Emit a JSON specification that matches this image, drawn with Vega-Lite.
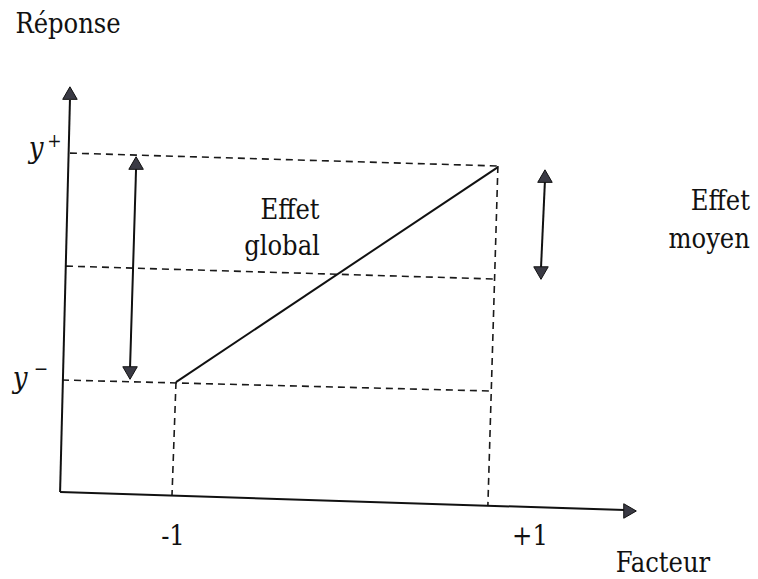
{
  "$schema": "https://vega.github.io/schema/vega-lite/v6.json",
  "width": 758,
  "height": 579,
  "autosize": {"type": "none"},
  "padding": 0,
  "background": "white",
  "config": {"view": {"stroke": null}},
  "datasets": {
    "segs": [
      {"id": "yaxis", "kind": "solid", "o": 0, "x": -1.704, "y": -1.969},
      {"id": "yaxis", "kind": "solid", "o": 1, "x": -1.642, "y": 1.454},
      {"id": "xaxis", "kind": "solid", "o": 0, "x": -1.704, "y": -1.969},
      {"id": "xaxis", "kind": "solid", "o": 1, "x": 1.849, "y": -2.127},
      {"id": "main", "kind": "solid", "o": 0, "x": -0.975, "y": -1.009},
      {"id": "main", "kind": "solid", "o": 1, "x": 1.05, "y": 0.869},
      {"id": "larrow", "kind": "solid", "o": 0, "x": -1.226, "y": 0.86},
      {"id": "larrow", "kind": "solid", "o": 1, "x": -1.264, "y": -0.886},
      {"id": "rarrow", "kind": "solid", "o": 0, "x": 1.346, "y": 0.755},
      {"id": "rarrow", "kind": "solid", "o": 1, "x": 1.321, "y": -0.013},
      {"id": "hplus", "kind": "dashed", "o": 0, "x": -1.642, "y": 0.991},
      {"id": "hplus", "kind": "dashed", "o": 1, "x": 1.05, "y": 0.878},
      {"id": "hmid", "kind": "dashed", "o": 0, "x": -1.667, "y": 0.004},
      {"id": "hmid", "kind": "dashed", "o": 1, "x": 1.031, "y": -0.109},
      {"id": "hminus", "kind": "dashed", "o": 0, "x": -1.692, "y": -0.991},
      {"id": "hminus", "kind": "dashed", "o": 1, "x": 1.0, "y": -1.087},
      {"id": "vminus", "kind": "dashed", "o": 0, "x": -0.975, "y": -1.009},
      {"id": "vminus", "kind": "dashed", "o": 1, "x": -1.0, "y": -1.996},
      {"id": "vplus", "kind": "dashed", "o": 0, "x": 1.05, "y": 0.878},
      {"id": "vplus", "kind": "dashed", "o": 1, "x": 0.987, "y": -2.083}
    ],
    "heads": [
      {"shape": "triangle-up", "x": -1.642, "y": 1.515},
      {"shape": "triangle-right", "x": 1.881, "y": -2.135},
      {"shape": "triangle-up", "x": -1.226, "y": 0.904},
      {"shape": "triangle-down", "x": -1.264, "y": -0.93},
      {"shape": "triangle-up", "x": 1.346, "y": 0.79},
      {"shape": "triangle-down", "x": 1.321, "y": -0.057}
    ],
    "labels": [
      {"t": "Réponse", "x": -1.654, "y": 2.039, "al": "center", "st": "normal", "sz": 27},
      {"t": "Effet", "x": -0.258, "y": 0.415, "al": "center", "st": "normal", "sz": 27},
      {"t": "global", "x": -0.308, "y": 0.1, "al": "center", "st": "normal", "sz": 27},
      {"t": "Effet", "x": 2.635, "y": 0.493, "al": "right", "st": "normal", "sz": 27},
      {"t": "moyen", "x": 2.635, "y": 0.162, "al": "right", "st": "normal", "sz": 27},
      {"t": "-1", "x": -0.994, "y": -2.432, "al": "center", "st": "normal", "sz": 27},
      {"t": "+1", "x": 1.252, "y": -2.432, "al": "center", "st": "normal", "sz": 27},
      {"t": "Facteur", "x": 2.088, "y": -2.668, "al": "center", "st": "normal", "sz": 27},
      {"t": "y", "x": -1.855, "y": 0.948, "al": "center", "st": "italic", "sz": 29},
      {"t": "+", "x": -1.74, "y": 1.04, "al": "center", "st": "normal", "sz": 19},
      {"t": "y", "x": -1.956, "y": -1.061, "al": "center", "st": "italic", "sz": 29},
      {"t": "−", "x": -1.825, "y": -0.95, "al": "center", "st": "normal", "sz": 19}
    ]
  },
  "layer": [
    {
      "data": {"name": "segs"},
      "transform": [{"filter": "datum.kind === 'dashed'"}],
      "mark": {"type": "line", "color": "#1a1a1a", "strokeWidth": 1.6, "strokeDash": [7, 5]},
      "encoding": {
        "x": {"field": "x", "type": "quantitative", "scale": {"domain": [-2.082, 2.686], "zero": false, "nice": false}, "axis": null},
        "y": {"field": "y", "type": "quantitative", "scale": {"domain": [-2.729, 2.328], "zero": false, "nice": false}, "axis": null},
        "detail": {"field": "id"},
        "order": {"field": "o"}
      }
    },
    {
      "data": {"name": "segs"},
      "transform": [{"filter": "datum.kind === 'solid'"}],
      "mark": {"type": "line", "color": "#111111", "strokeWidth": 2},
      "encoding": {
        "x": {"field": "x", "type": "quantitative"},
        "y": {"field": "y", "type": "quantitative"},
        "detail": {"field": "id"},
        "order": {"field": "o"}
      }
    },
    {
      "data": {"name": "heads"},
      "mark": {"type": "point", "filled": true, "fill": "#3a3a44", "opacity": 1, "fillOpacity": 1, "size": 210, "stroke": "#111111", "strokeOpacity": 1, "strokeWidth": 1},
      "encoding": {
        "x": {"field": "x", "type": "quantitative"},
        "y": {"field": "y", "type": "quantitative"},
        "shape": {"field": "shape", "type": "nominal", "scale": null, "legend": null}
      }
    },
    {
      "data": {"name": "labels"},
      "transform": [{"filter": "datum.al === 'center' && datum.st === 'normal'"}],
      "mark": {"type": "text", "font": "DejaVu Serif Condensed, DejaVu Serif", "color": "#111111", "align": "center", "baseline": "alphabetic"},
      "encoding": {
        "x": {"field": "x", "type": "quantitative"},
        "y": {"field": "y", "type": "quantitative"},
        "text": {"field": "t"},
        "size": {"field": "sz", "type": "quantitative", "scale": null}
      }
    },
    {
      "data": {"name": "labels"},
      "transform": [{"filter": "datum.al === 'right'"}],
      "mark": {"type": "text", "font": "DejaVu Serif Condensed, DejaVu Serif", "color": "#111111", "align": "right", "baseline": "alphabetic"},
      "encoding": {
        "x": {"field": "x", "type": "quantitative"},
        "y": {"field": "y", "type": "quantitative"},
        "text": {"field": "t"},
        "size": {"field": "sz", "type": "quantitative", "scale": null}
      }
    },
    {
      "data": {"name": "labels"},
      "transform": [{"filter": "datum.st === 'italic'"}],
      "mark": {"type": "text", "font": "DejaVu Serif Condensed, DejaVu Serif", "fontStyle": "italic", "color": "#111111", "align": "center", "baseline": "alphabetic"},
      "encoding": {
        "x": {"field": "x", "type": "quantitative"},
        "y": {"field": "y", "type": "quantitative"},
        "text": {"field": "t"},
        "size": {"field": "sz", "type": "quantitative", "scale": null}
      }
    }
  ]
}
